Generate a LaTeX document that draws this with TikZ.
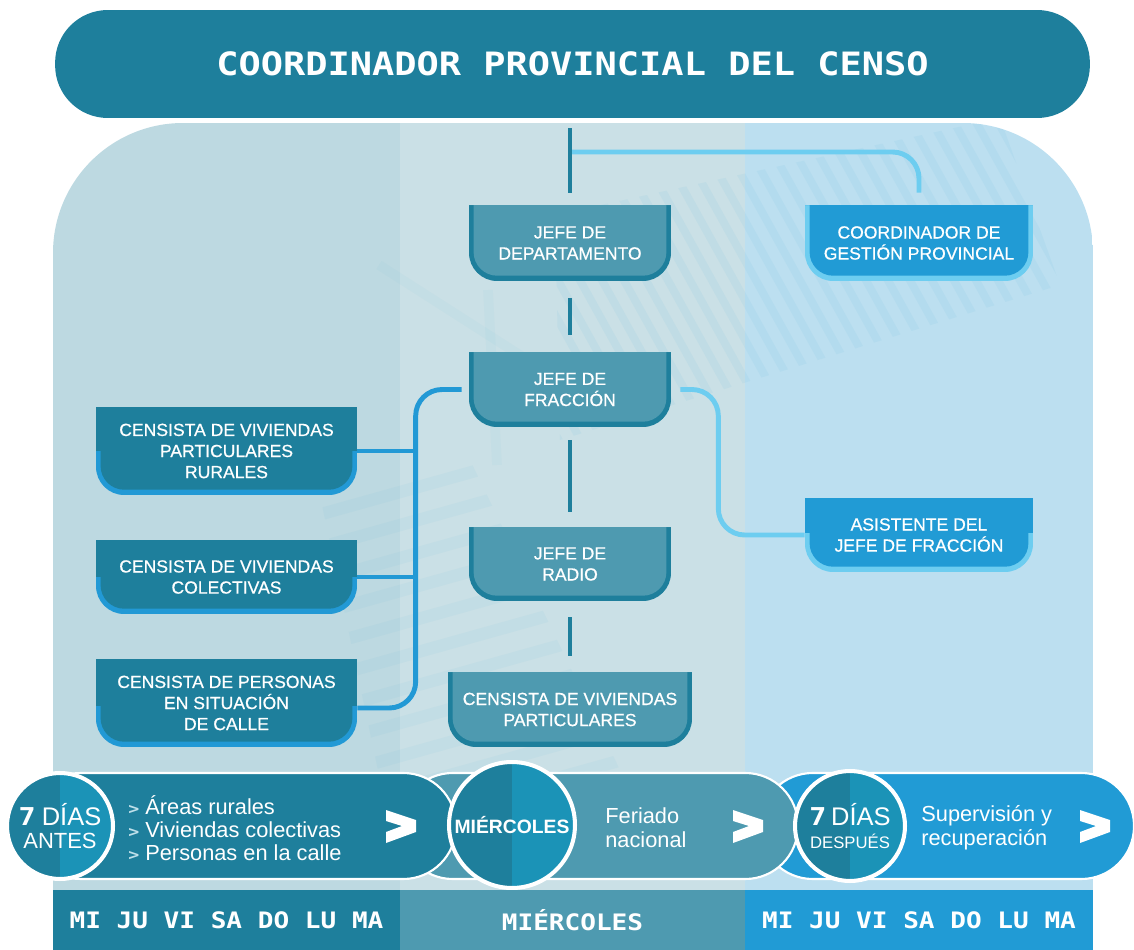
\documentclass[tikz,border=0pt]{standalone}
\usepackage{fontspec}
\setmainfont{Liberation Sans}
\newfontfamily\dispfont[FakeStretch=1.15]{DejaVu Sans Mono}
\newfontfamily\boxfont[FakeBold=0.6]{Liberation Sans}
\usepackage{tikz}

\definecolor{tealdark}{HTML}{1E7F9C}
\definecolor{tealmid}{HTML}{4E9AB0}
\definecolor{bluemain}{HTML}{219BD5}
\definecolor{bluelink}{HTML}{2299D5}
\definecolor{bluelight}{HTML}{6DCDF0}
\definecolor{panelleft}{HTML}{BDD9E1}
\definecolor{panelmid}{HTML}{CAE0E6}
\definecolor{panelright}{HTML}{BCDFF0}
\definecolor{circlelight}{HTML}{1B93B7}
\definecolor{hatch}{HTML}{5CB9DC}
\definecolor{bulletgray}{HTML}{BFE0EA}

\newcommand\pillbullet{{\color{bulletgray}\dispfont\bfseries\fontsize{9}{9}\selectfont >}\ }

\begin{document}
\begin{tikzpicture}[x=0.02cm, y=-0.02cm,
  tab/.style n args={3}{inner sep=0pt, text=white, align=center,
    font=\boxfont\fontsize{10}{12}\selectfont,
    path picture={
      \fill[#2, rounded corners=16pt] ([yshift=20pt]path picture bounding box.north west) rectangle (path picture bounding box.south east);
      \fill[#1, rounded corners=13.5pt] ([xshift=2.6pt, yshift=20pt]path picture bounding box.north west) rectangle ([xshift=-2.6pt, yshift=3pt]path picture bounding box.south east);
      \fill[#1] (path picture bounding box.north west) rectangle ([yshift=-#3]path picture bounding box.north east);
    }},
  midbox/.style={tab={tealmid}{tealdark}{0pt}},
  leftbox/.style={tab={tealdark}{bluelink}{#1}},
  rightbox/.style={tab={bluemain}{bluelight}{#1}},
  vline/.style={draw=tealdark, line width=2.8pt},
  lconn/.style={draw=bluelight, line width=2.8pt, rounded corners=15pt},
  bconn/.style={draw=bluelink, line width=2.8pt, rounded corners=15pt},
  hatchline/.style={draw=hatch, line width=4.5pt, opacity=0.09},
  pill/.style={draw=white, line width=1.2pt, rounded corners=30pt},
  pilltext/.style={inner sep=0pt, text=white, align=left, anchor=west},
  daycircle/.style={circle, fill=circlelight, draw=white, line width=2.3pt,
    inner sep=0pt, text=white, align=center,
    path picture={\fill[tealdark] (path picture bounding box.south west) rectangle (path picture bounding box.north);}},
  daystrip/.style={minimum height=1.2cm, inner sep=0pt, text=white,
    font=\dispfont\bfseries\fontsize{12.9}{13}\selectfont}]

\useasboundingbox (0,0) rectangle (1134,950);

% Background panel
\begin{scope}
  \clip[rounded corners=74pt] (53,123) rectangle (1093,1100);
  \fill[panelleft] (53,123) rectangle (400,890);
  \fill[panelmid] (400,123) rectangle (745,890);
  \fill[panelright] (745,123) rectangle (1093,890);
  \begin{scope}
    \clip (555,215) -- (1000,118) -- (1060,285) -- (560,440) -- cycle;
    \foreach \i in {0,...,32}
      \draw[hatchline] (320+22*\i,50) -- ++(250,450);
  \end{scope}
  \begin{scope}
    \clip (322,505) -- (470,460) -- (620,770) -- (380,780) -- cycle;
    \foreach \i in {0,...,10}
      \draw[hatchline, line width=7pt, opacity=0.07] (300,520+33*\i) -- ++(340,-95);
  \end{scope}
  \draw[hatchline, line width=5.5pt, opacity=0.05] (379,265) -- (540,368);
  \draw[hatchline, line width=5.5pt, opacity=0.05] (488,290) -- (497,465);
\end{scope}

% Header
\node[fill=tealdark, rounded corners=30pt, minimum width=20.7cm, minimum height=2.16cm,
  text=white, font=\dispfont\bfseries\fontsize{18.3}{20}\selectfont] (coord) at (572.5,64)
  {COORDINADOR PROVINCIAL DEL CENSO};

% Middle column
\node[midbox, minimum width=4.04cm, minimum height=1.52cm] (dep) at (570,243) {JEFE DE\\DEPARTAMENTO};
\node[midbox, minimum width=4.04cm, minimum height=1.5cm] (frac) at (570,389.5) {JEFE DE\\FRACCIÓN};
\node[midbox, minimum width=4.04cm, minimum height=1.48cm] (radio) at (570,564) {JEFE DE\\RADIO};
\node[midbox, minimum width=4.88cm, minimum height=1.5cm] (censo) at (570,709.5) {CENSISTA DE VIVIENDAS\\PARTICULARES};

% Right column
\node[rightbox=0pt, minimum width=4.56cm, minimum height=1.52cm] (gest) at (919,243) {COORDINADOR DE\\GESTIÓN PROVINCIAL};
\node[rightbox=20pt, minimum width=4.56cm, minimum height=1.48cm] (asist) at (919,535) {ASISTENTE DEL\\JEFE DE FRACCIÓN};

% Left column
\node[leftbox=25pt, minimum width=5.22cm, minimum height=1.76cm] (c1) at (226.5,451) {CENSISTA DE VIVIENDAS\\PARTICULARES\\RURALES};
\node[leftbox=21pt, minimum width=5.22cm, minimum height=1.48cm] (c2) at (226.5,577) {CENSISTA DE VIVIENDAS\\COLECTIVAS};
\node[leftbox=27pt, minimum width=5.22cm, minimum height=1.76cm] (c3) at (226.5,703) {CENSISTA DE PERSONAS\\EN SITUACIÓN\\DE CALLE};

% Connectors
\coordinate (tee) at (570,152);
\draw[lconn] (tee) -| ([yshift=0.24cm]gest.north);
\draw[vline, shorten <=0.2cm, shorten >=0.24cm] (coord.south -| dep.north) -- (dep.north);
\draw[vline, shorten <=0.34cm, shorten >=0.34cm] (dep) -- (frac);
\draw[vline, shorten <=0.26cm, shorten >=0.3cm] (frac) -- (radio);
\draw[vline, shorten <=0.32cm, shorten >=0.32cm] (radio) -- (censo);
\draw[lconn, shorten <=0.18cm] (frac.east) -- ++(47,0) |- (asist.west);
\draw[bconn, shorten <=0.14cm] (frac.west) -- ++(-53,0) coordinate (trunk) |- ([yshift=-0.1cm]c3.east);
\draw[bconn] (c1.east) -- (c1.east -| trunk);
\draw[bconn] (c2.east) -- (c2.east -| trunk);

% Timeline pills
\draw[pill, fill=bluemain] (760,773) rectangle (1134,879);
\draw[pill, fill=tealmid] (400,773) rectangle (798,879);
\draw[pill, fill=tealdark] (28,773) rectangle (456,879);
\foreach \cx in {386,733,1080}
  \fill[white] (\cx,810) -- ++(30,10) -- ++(0,12) -- ++(-30,11) -- ++(0,-11) -- ++(16,-6) -- ++(-16,-5) -- cycle;

\node[pilltext, font=\fontsize{12.4}{13}\selectfont] (tareas) at (128,828)
  {\pillbullet Áreas rurales\\\pillbullet Viviendas colectivas\\\pillbullet Personas en la calle};
\node[pilltext, font=\fontsize{12.4}{13.6}\selectfont] (feriado) at (605,828) {Feriado\\nacional};
\node[pilltext, font=\fontsize{12.4}{13.6}\selectfont] (superv) at (921,828) {Supervisión y\\recuperación};

% Day circles
\node[daycircle, minimum size=2.12cm, font=\fontsize{12.5}{13}\selectfont] (antes) at (60,826)
  {{\dispfont\bfseries\fontsize{14}{14}\selectfont 7} {\fontsize{14.5}{13}\selectfont DÍAS}\\ANTES};
\node[daycircle, minimum size=2.52cm, font=\bfseries\fontsize{11}{12}\selectfont] (mier) at (512,825) {MIÉRCOLES};
\node[daycircle, minimum size=2.2cm, font=\fontsize{9.5}{13}\selectfont] (despues) at (850,826)
  {{\dispfont\bfseries\fontsize{14}{14}\selectfont 7} {\fontsize{14.5}{13}\selectfont DÍAS}\\DESPUÉS};

% Week strip
\node[daystrip, fill=tealdark, minimum width=6.94cm] (week1) at (226.5,920) {MI JU VI SA DO LU MA};
\node[daystrip, fill=tealmid, minimum width=6.9cm] (week2) at (572.5,920) {MIÉRCOLES};
\node[daystrip, fill=bluemain, minimum width=6.96cm] (week3) at (919,920) {MI JU VI SA DO LU MA};

\end{tikzpicture}
\end{document}
